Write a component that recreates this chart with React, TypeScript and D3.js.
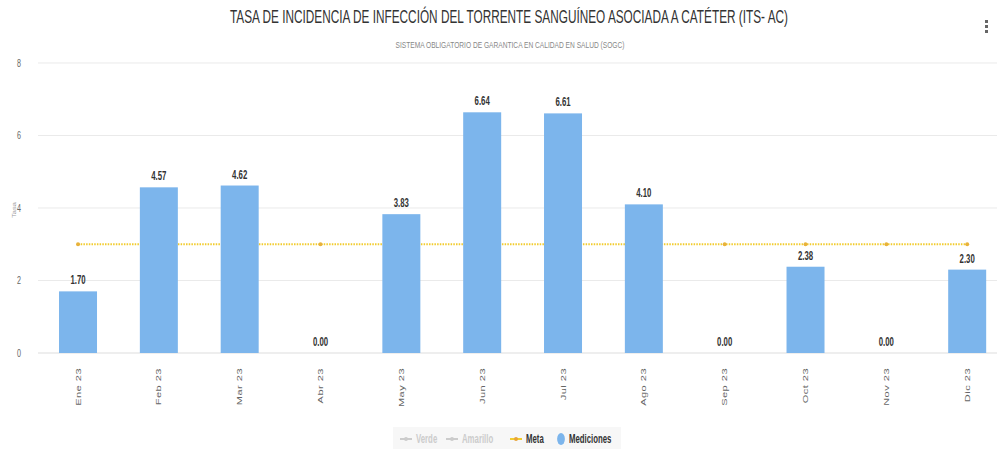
import React from "react";
import * as d3 from "d3";

const months = ["Ene 23", "Feb 23", "Mar 23", "Abr 23", "May 23", "Jun 23", "Jul 23", "Ago 23", "Sep 23", "Oct 23", "Nov 23", "Dic 23"];
const mediciones = [1.7, 4.57, 4.62, 0, 3.83, 6.64, 6.61, 4.1, 0, 2.38, 0, 2.3];
const meta = [3, 3, 3, 3, 3, 3, 3, 3, 3, 3, 3, 3];
const yTicks = [0, 2, 4, 6, 8];
const legendItems = [
  { name: "Verde", kind: "line", hidden: true },
  { name: "Amarillo", kind: "line", hidden: true },
  { name: "Meta", kind: "line", hidden: false },
  { name: "Mediciones", kind: "bar", hidden: false },
];

const W = 997;
const H = 449;
const S = 0.65; // horizontal compression of the whole drawing
const X = (px: number) => px / S; // screen x -> inner coords

const FONT = "'Liberation Sans', Arial, Helvetica, sans-serif";

export default function App() {
  const x = d3.scaleBand<string>().domain(months).range([X(37.6), X(1007.6)]).paddingInner(0.53).paddingOuter(0.265);
  const y = d3.scaleLinear().domain([0, 8]).range([353, 63]);
  const line = d3
    .line<number>()
    .x((_, i) => (x(months[i]) as number) + x.bandwidth() / 2)
    .y((d) => y(d));

  const legendX = [X(400), X(446), X(510), X(557)];

  return (
    <svg width={W} height={H} style={{ position: "absolute", left: 0, top: 0, background: "#fff" }}>
      <defs>
        <clipPath id="clip">
          <rect x={0} y={0} width={X(W)} height={H} />
        </clipPath>
      </defs>
      <g transform={`scale(${S},1)`} fontFamily={FONT} clipPath="url(#clip)">
        <text x={X(509)} y={23} textAnchor="middle" fontSize={18} fill="#333" textLength={X(558)} lengthAdjust="spacingAndGlyphs">
          TASA DE INCIDENCIA DE INFECCIÓN DEL TORRENTE SANGUÍNEO ASOCIADA A CATÉTER (ITS- AC)
        </text>
        <text x={X(510)} y={48} textAnchor="middle" fontSize={9.5} fill="#888" textLength={X(229)} lengthAdjust="spacingAndGlyphs">
          SISTEMA OBLIGATORIO DE GARANTICA EN CALIDAD EN SALUD (SOGC)
        </text>

        {/* menu icon */}
        {[20, 25, 30].map((yy) => (
          <rect key={yy} x={X(985)} y={yy} width={X(3)} height={3} fill="#666" />
        ))}

        {/* grid */}
        {yTicks.map((t) => (
          <g key={t}>
            <line x1={X(38)} x2={X(1007)} y1={y(t)} y2={y(t)} stroke={t === 0 ? "#d6d6d6" : "#e6e6e6"} strokeWidth={1} />
            <text x={X(21)} y={y(t) + 4} textAnchor="end" fontSize={11} fill="#666">
              {t}
            </text>
          </g>
        ))}
        <text transform={`translate(${X(16)},210) rotate(-90)`} textAnchor="middle" fontSize={7.5} fill="#999">
          Tasa
        </text>

        {/* meta line */}
        <path d={line(meta) || ""} fill="none" stroke="#f2cc2e" strokeWidth={2} strokeDasharray={`${X(1.5)} ${X(1.2)}`} />
        {meta.map((v, i) => (
          <ellipse key={i} cx={(x(months[i]) as number) + x.bandwidth() / 2} cy={y(v)} rx={X(2)} ry={2} fill="#e8b23a" />
        ))}

        {/* bars */}
        {mediciones.map((v, i) => (
          <rect key={i} x={x(months[i])} y={y(v)} width={x.bandwidth()} height={y(0) - y(v)} fill="#7cb5ec" />
        ))}
        {mediciones.map((v, i) => (
          <text
            key={"l" + i}
            x={(x(months[i]) as number) + x.bandwidth() / 2}
            y={y(v) - 7}
            textAnchor="middle"
            fontSize={12}
            fontWeight="bold"
            fill="#333"
          >
            {v.toFixed(2)}
          </text>
        ))}

        {/* x labels */}
        {months.map((m) => (
          <text
            key={m}
            transform={`translate(${(x(m) as number) + x.bandwidth() / 2 + 4},368) rotate(-90)`}
            textAnchor="end"
            fontSize={11}
            letterSpacing={0.5}
            fill="#666"
          >
            {m}
          </text>
        ))}

        {/* legend */}
        <rect x={X(393)} y={427} width={X(228)} height={24} fill="#f7f7f7" />
        {legendItems.map((it, i) => {
          const lx = legendItems.length ? legendX[i] : 0;
          const col = it.hidden ? "#cccccc" : "#333";
          return (
            <g key={it.name}>
              {it.kind === "line" ? (
                <g>
                  <line x1={lx} x2={lx + X(12)} y1={439} y2={439} stroke={it.hidden ? "#cccccc" : "#f2cc2e"} strokeWidth={2} />
                  <ellipse cx={lx + X(6)} cy={439} rx={X(2)} ry={2} fill={it.hidden ? "#cccccc" : "#e8a33a"} />
                </g>
              ) : (
                <ellipse cx={lx + X(4)} cy={439} rx={6} ry={6} fill="#7cb5ec" />
              )}
              <text x={lx + (it.kind === "line" ? X(16) : X(12))} y={443.5} fontSize={12} fontWeight="bold" fill={col}>
                {it.name}
              </text>
            </g>
          );
        })}
      </g>
    </svg>
  );
}
